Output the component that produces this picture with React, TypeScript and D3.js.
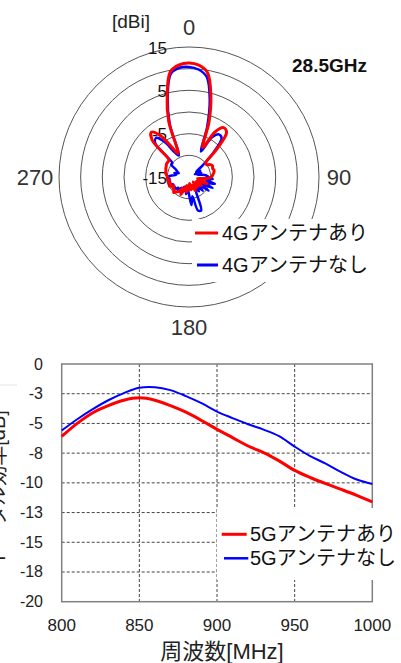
import React from 'react';
import * as d3 from 'd3';

// ---------- Polar pattern (28.5GHz) ----------
const polarAngles = d3.range(0, 360, 5); // sampling angles, deg (clockwise from top)
const gainWith4G = [
  11.3, 10.9, 9.5, 4.5, -1.5, -7.5, -3.0, -1.1, -1.5, -6.0, -10, -10,
  -9.3, -9, -9.2, -9, -9.2, -9.5, -9.8, -11, -13, -12, -10.5, -12.5,
  -13, -11.5, -13, -12, -13.5, -12, -13, -11.5, -12.5, -13, -12, -13.5,
  -12, -13, -11.5, -13, -12, -10.5, -12, -11, -10.5, -10, -10.5, -10.5,
  -11, -10, -10.5, -10, -10.5, -10, -10, -9.8, -9.5, -9.5, -9.3, -9.2,
  -9, -9, -9, -3.0, -1.5, -3.2, -7, -9, -1.3, 4.5, 9.7, 11.0,
];
const gainWithout4G = [
  10.4, 9.9, 8.5, 3.5, -2.8, -8.5, -4.5, -3.0, -3.3, -7, -11, -13,
  -12, -13.5, -12, -13, -12, -11, -10.5, -9.5, -11, -8.8, -11.5, -9,
  -12, -9.5, -12.5, -10.5, -12.5, -11, -12, -11, -6.8, -7.0, -10.5, -8.5,
  -11, -12, -11, -12.5, -11.5, -12.5, -11, -12, -11, -11.5, -10.5, -11,
  -10.5, -11, -10, -10.5, -10, -10.5, -10, -11, -12, -11.5, -12.5, -12,
  -11.5, -10, -10, -4, -3.2, -5, -8.5, -9.5, -2.0, 4.0, 9.2, 10.3,
];
const ringDb = [-10, -5, 0, 5, 10, 15];
const ringLabelDb = [15, 5, -5, -15];
const angleLabels = [0, 90, 180, 270];
const polarSeries = ['4Gアンテナあり', '4Gアンテナなし'];

// ---------- Efficiency vs frequency ----------
const freqMHz = [800, 810, 820, 830, 840, 850, 860, 870, 880, 890, 900, 910, 920, 930, 940, 950, 960, 970, 980, 990, 1000];
const effWith5G = [-6.1, -5.0, -4.1, -3.5, -3.05, -2.85, -3.05, -3.5, -4.05, -4.75, -5.5, -6.2, -6.9, -7.45, -8.15, -8.95, -9.55, -10.07, -10.55, -11.05, -11.6];
const effWithout5G = [-5.6, -4.65, -3.8, -3.05, -2.45, -2.0, -1.95, -2.2, -2.7, -3.3, -4.0, -4.55, -5.07, -5.52, -6.07, -6.95, -7.75, -8.38, -9.1, -9.72, -10.1];
const yTicks = [0, -2.5, -5, -7.5, -10, -12.5, -15, -17.5, -20];
const yTickLabels = ['0', '-3', '-5', '-8', '-10', '-13', '-15', '-18', '-20'];
const xTicks = [800, 850, 900, 950, 1000];
const lineSeries = ['5Gアンテナあり', '5Gアンテナなし'];

const RED = '#ff0000';
const BLUE = '#0000ff';
const LATIN = '"Liberation Sans", Arial, sans-serif';
const MIXED = '"Liberation Sans", "Noto Sans CJK JP", sans-serif';

export default function App() {
  // polar
  const cx = 189, cy = 177, R = 130;
  const rScale = d3.scaleLinear().domain([-15, 15]).range([0, R]);
  const radial = d3
    .lineRadial<[number, number]>()
    .angle((d) => (d[0] * Math.PI) / 180)
    .radius((d) => rScale(d[1]))
    .curve(d3.curveCatmullRomClosed.alpha(0.5));
  const redPath = radial(polarAngles.map((a, i) => [a, gainWith4G[i]] as [number, number])) || '';
  const bluePath = radial(polarAngles.map((a, i) => [a, gainWithout4G[i]] as [number, number])) || '';

  // line chart
  const x = d3.scaleLinear().domain([800, 1000]).range([61.7, 372.3]);
  const y = d3.scaleLinear().domain([-20, 0]).range([601.7, 364]);
  const line = d3
    .line<number>()
    .x((_, i) => x(freqMHz[i]))
    .y((d) => y(d))
    .curve(d3.curveCatmullRom.alpha(0.5));

  return (
    <svg width={401} height={663} style={{ position: 'absolute', left: 0, top: 0, background: '#fff' }}>
      {/* ---------- polar ---------- */}
      <g transform={`translate(${cx},${cy})`}>
        {ringDb.map((v) => (
          <circle key={v} r={rScale(v)} fill="none" stroke="#555" strokeWidth={1} />
        ))}
        {angleLabels.map((a) => {
          const rad = (a * Math.PI) / 180;
          const rr = a === 270 ? 154 : 150;
          return (
            <text key={a} x={Math.sin(rad) * rr} y={-Math.cos(rad) * rr} textAnchor="middle" dominantBaseline="central"
              fontFamily={LATIN} fontSize={22} fill="#333">{a}</text>
          );
        })}
        {ringLabelDb.map((v) => (
          <text key={v} x={-22} y={-rScale(v) + 1} textAnchor="end" dominantBaseline="central"
            fontFamily={LATIN} fontSize={17} fill="#111">{v}</text>
        ))}
        <path d={bluePath} fill="none" stroke={BLUE} strokeWidth={2.5} strokeLinejoin="round" />
        <path d={redPath} fill="none" stroke={RED} strokeWidth={3} strokeLinejoin="round" />
      </g>
      <text x={131} y={21} textAnchor="middle" dominantBaseline="central" fontFamily={LATIN} fontSize={19} fill="#222">[dBi]</text>
      <text x={292} y={65} dominantBaseline="central" fontFamily={LATIN} fontSize={19} fontWeight="bold" fill="#111">28.5GHz</text>
      <rect x={192} y={219} width={186} height={63} fill="#fff" />
      {polarSeries.map((s, i) => (
        <g key={s}>
          <line x1={i === 0 ? 195 : 197} x2={218} y1={233 + i * 32} y2={233 + i * 32} stroke={i === 0 ? RED : BLUE} strokeWidth={3} />
          <text x={222} y={233 + i * 32} dominantBaseline="central" fontFamily={MIXED} fontSize={20} fill="#111">{s}</text>
        </g>
      ))}

      {/* ---------- line chart ---------- */}
      {yTicks.slice(1, -1).map((v) => (
        <line key={v} x1={x(800)} x2={x(1000)} y1={y(v)} y2={y(v)} stroke="#444" strokeWidth={1} strokeDasharray="3,2" />
      ))}
      {xTicks.slice(1, -1).map((v) => (
        <line key={v} x1={x(v)} x2={x(v)} y1={y(0)} y2={y(-20)} stroke="#444" strokeWidth={1} strokeDasharray="3,2" />
      ))}
      <rect x={x(800)} y={y(0)} width={x(1000) - x(800)} height={y(-20) - y(0)} fill="none" stroke="#808080" strokeWidth={1.5} />
      <path d={line(effWithout5G) || ''} fill="none" stroke={BLUE} strokeWidth={2} />
      <path d={line(effWith5G) || ''} fill="none" stroke={RED} strokeWidth={3} />
      {yTicks.map((v, i) => (
        <text key={v} x={43} y={y(v)} textAnchor="end" dominantBaseline="central" fontFamily={LATIN} fontSize={16} fill="#222">{yTickLabels[i]}</text>
      ))}
      {xTicks.map((v) => (
        <text key={v} x={x(v)} y={625} textAnchor="middle" dominantBaseline="central" fontFamily={LATIN} fontSize={17} fill="#222">{v}</text>
      ))}
      <text x={222} y={651} textAnchor="middle" dominantBaseline="central" fontFamily={MIXED} fontSize={22} fill="#222">周波数[MHz]</text>
      <line x1={0} x2={17} y1={385} y2={385} stroke="#e2e2e2" strokeWidth={1} />
      <text transform="translate(5,488) rotate(-90)" textAnchor="middle" fontFamily={MIXED} fontSize={20} fill="#222">トータル効率[dB]</text>
      <rect x={217} y={508} width={190} height={72} fill="#fff" />
      {lineSeries.map((s, i) => (
        <g key={s}>
          <line x1={i === 0 ? 221.7 : 224} x2={i === 0 ? 246.7 : 248.3} y1={534.3 + i * 24} y2={534.3 + i * 24} stroke={i === 0 ? RED : BLUE} strokeWidth={i === 0 ? 3 : 2.5} />
          <text x={250} y={534.3 + i * 24} dominantBaseline="central" fontFamily={MIXED} fontSize={20} fill="#111">{s}</text>
        </g>
      ))}
    </svg>
  );
}
